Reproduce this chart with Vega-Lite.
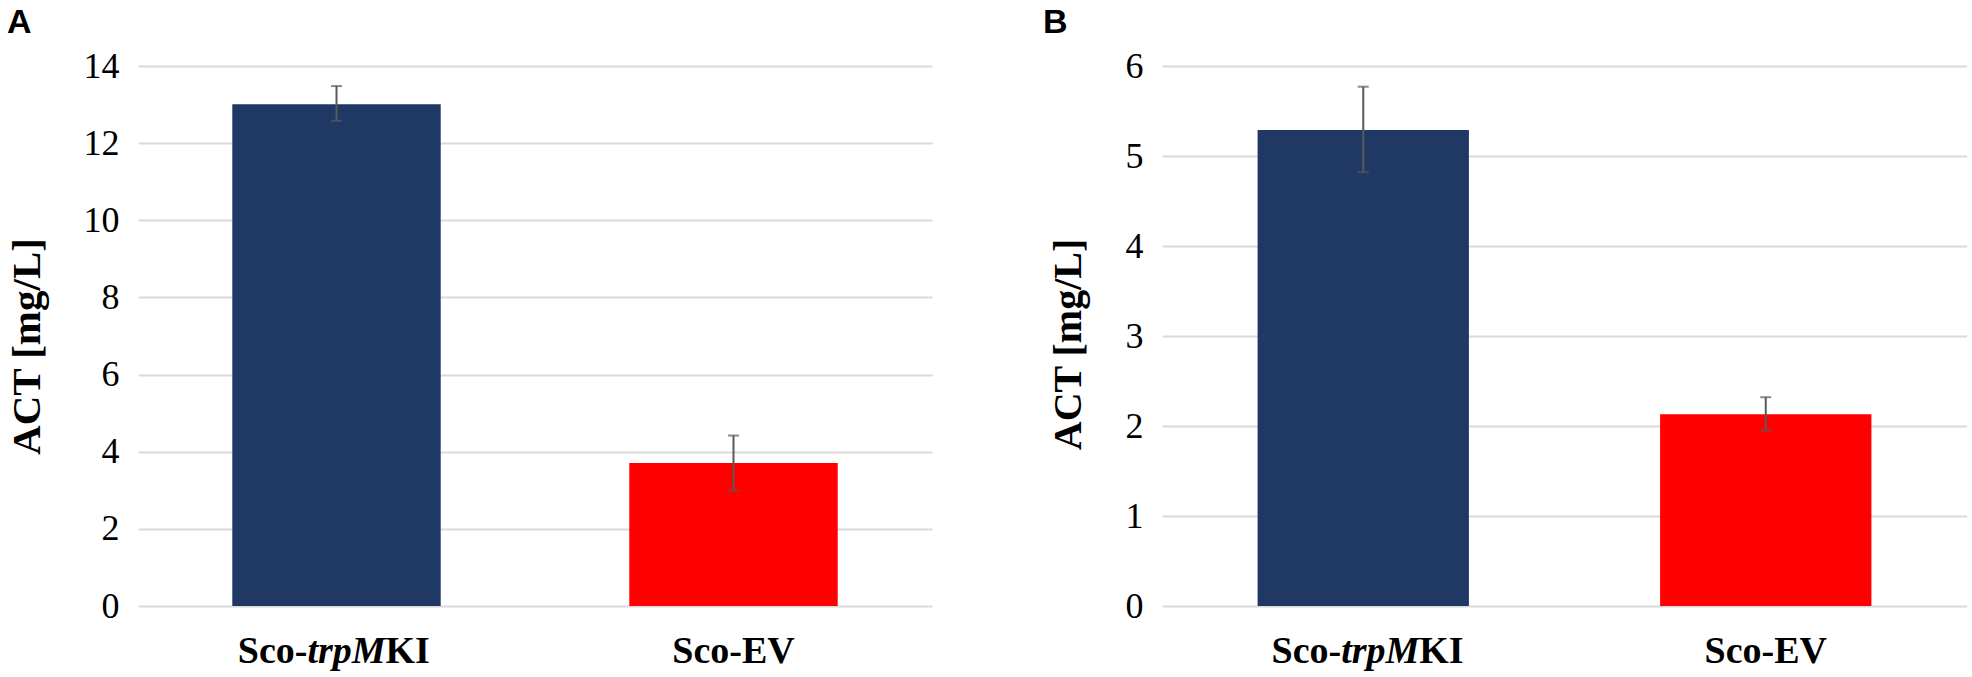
{
  "$schema": "https://vega.github.io/schema/vega-lite/v6.json",
  "padding": {"left": 6, "top": 6, "right": 0, "bottom": 0},
  "background": "white",
  "spacing": 111,
  "config": {"view": {"stroke": null}, "font": "Liberation Serif"},
  "datasets": {
    "panelA": [
      {"group": "Sco-trpMKI", "value": 13.01, "lo": 12.58, "hi": 13.48, "pre": "Sco-", "ital": "trpM", "post": "KI"},
      {"group": "Sco-EV", "value": 3.71, "lo": 2.99, "hi": 4.42, "pre": "Sco-EV", "ital": "", "post": ""}
    ],
    "panelB": [
      {"group": "Sco-trpMKI", "value": 5.29, "lo": 4.82, "hi": 5.77, "pre": "Sco-", "ital": "trpM", "post": "KI"},
      {"group": "Sco-EV", "value": 2.13, "lo": 1.95, "hi": 2.32, "pre": "Sco-EV", "ital": "", "post": ""}
    ]
  },
  "hconcat": [
    {
      "width": 794,
      "height": 540,
      "data": {"name": "panelA"},
      "title": {"text": "A", "anchor": "start", "frame": "group", "dx": -131, "font": "Liberation Sans", "fontSize": 34, "fontWeight": "bold", "baseline": "alphabetic", "offset": -19, "color": "black"},
      "encoding": {
        "x": {"field": "group", "type": "nominal", "sort": ["Sco-trpMKI", "Sco-EV"], "scale": {"paddingInner": 0, "paddingOuter": 0}, "axis": null}
      },
      "layer": [
        {
          "mark": {"type": "bar", "width": {"band": 0.525}},
          "encoding": {
            "y": {"field": "value", "type": "quantitative", "scale": {"domain": [0, 14], "nice": false},
              "axis": {"title": "ACT [mg/L]", "values": [0, 2, 4, 6, 8, 10, 12, 14], "format": "d", "grid": true, "gridColor": "#d9d9d9", "gridWidth": 2, "domain": false, "ticks": false, "labelFont": "Liberation Serif", "labelFontSize": 36, "labelColor": "black", "labelPadding": 19, "titleFont": "Liberation Serif", "titleFontSize": 41, "titleFontWeight": "bold", "titleColor": "black", "titlePadding": 35, "titleY": 280}},
            "color": {"field": "group", "type": "nominal", "scale": {"domain": ["Sco-trpMKI", "Sco-EV"], "range": ["#203864", "#FF0000"]}, "legend": null}
          }
        },
        {
          "mark": {"type": "errorbar", "ticks": {"size": 11}, "thickness": 2, "color": "#595959"},
          "encoding": {"y": {"field": "lo", "type": "quantitative", "title": "ACT [mg/L]"}, "y2": {"field": "hi"}}
        },
        {
          "transform": [{"filter": "datum.group === 'Sco-EV'"}],
          "mark": {"type": "text", "fontSize": 38, "fontWeight": "bold", "font": "Liberation Serif", "baseline": "alphabetic", "align": "center", "dy": 57, "color": "black"},
          "encoding": {"y": {"datum": 0}, "text": {"field": "pre"}}
        },
        {
          "transform": [{"filter": "datum.group === 'Sco-trpMKI'"}],
          "mark": {"type": "text", "fontSize": 38, "fontWeight": "bold", "font": "Liberation Serif", "baseline": "alphabetic", "align": "right", "dx": -29, "dy": 57, "color": "black"},
          "encoding": {"y": {"datum": 0}, "text": {"field": "pre"}}
        },
        {
          "transform": [{"filter": "datum.group === 'Sco-trpMKI'"}],
          "mark": {"type": "text", "fontSize": 38, "fontWeight": "bold", "fontStyle": "italic", "font": "Liberation Serif", "baseline": "alphabetic", "align": "left", "dx": -29, "dy": 57, "color": "black"},
          "encoding": {"y": {"datum": 0}, "text": {"field": "ital"}}
        },
        {
          "transform": [{"filter": "datum.group === 'Sco-trpMKI'"}],
          "mark": {"type": "text", "fontSize": 38, "fontWeight": "bold", "font": "Liberation Serif", "baseline": "alphabetic", "align": "left", "dx": 49, "dy": 57, "color": "black"},
          "encoding": {"y": {"datum": 0}, "text": {"field": "post"}}
        }
      ]
    },
    {
      "width": 805,
      "height": 540,
      "data": {"name": "panelB"},
      "title": {"text": "B", "anchor": "start", "frame": "group", "dx": -119, "font": "Liberation Sans", "fontSize": 34, "fontWeight": "bold", "baseline": "alphabetic", "offset": -19, "color": "black"},
      "encoding": {
        "x": {"field": "group", "type": "nominal", "sort": ["Sco-trpMKI", "Sco-EV"], "scale": {"paddingInner": 0, "paddingOuter": 0}, "axis": null}
      },
      "layer": [
        {
          "mark": {"type": "bar", "width": {"band": 0.525}},
          "encoding": {
            "y": {"field": "value", "type": "quantitative", "scale": {"domain": [0, 6], "nice": false},
              "axis": {"title": "ACT [mg/L]", "values": [0, 1, 2, 3, 4, 5, 6], "format": "d", "grid": true, "gridColor": "#d9d9d9", "gridWidth": 2, "domain": false, "ticks": false, "labelFont": "Liberation Serif", "labelFontSize": 36, "labelColor": "black", "labelPadding": 19, "titleFont": "Liberation Serif", "titleFontSize": 40, "titleFontWeight": "bold", "titleColor": "black", "titlePadding": 37, "titleY": 278}},
            "color": {"field": "group", "type": "nominal", "scale": {"domain": ["Sco-trpMKI", "Sco-EV"], "range": ["#203864", "#FF0000"]}, "legend": null}
          }
        },
        {
          "mark": {"type": "errorbar", "ticks": {"size": 11}, "thickness": 2, "color": "#595959"},
          "encoding": {"y": {"field": "lo", "type": "quantitative", "title": "ACT [mg/L]"}, "y2": {"field": "hi"}}
        },
        {
          "transform": [{"filter": "datum.group === 'Sco-EV'"}],
          "mark": {"type": "text", "fontSize": 38, "fontWeight": "bold", "font": "Liberation Serif", "baseline": "alphabetic", "align": "center", "dy": 57, "color": "black"},
          "encoding": {"y": {"datum": 0}, "text": {"field": "pre"}}
        },
        {
          "transform": [{"filter": "datum.group === 'Sco-trpMKI'"}],
          "mark": {"type": "text", "fontSize": 38, "fontWeight": "bold", "font": "Liberation Serif", "baseline": "alphabetic", "align": "right", "dx": -22, "dy": 57, "color": "black"},
          "encoding": {"y": {"datum": 0}, "text": {"field": "pre"}}
        },
        {
          "transform": [{"filter": "datum.group === 'Sco-trpMKI'"}],
          "mark": {"type": "text", "fontSize": 38, "fontWeight": "bold", "fontStyle": "italic", "font": "Liberation Serif", "baseline": "alphabetic", "align": "left", "dx": -22, "dy": 57, "color": "black"},
          "encoding": {"y": {"datum": 0}, "text": {"field": "ital"}}
        },
        {
          "transform": [{"filter": "datum.group === 'Sco-trpMKI'"}],
          "mark": {"type": "text", "fontSize": 38, "fontWeight": "bold", "font": "Liberation Serif", "baseline": "alphabetic", "align": "left", "dx": 56, "dy": 57, "color": "black"},
          "encoding": {"y": {"datum": 0}, "text": {"field": "post"}}
        }
      ]
    }
  ]
}
